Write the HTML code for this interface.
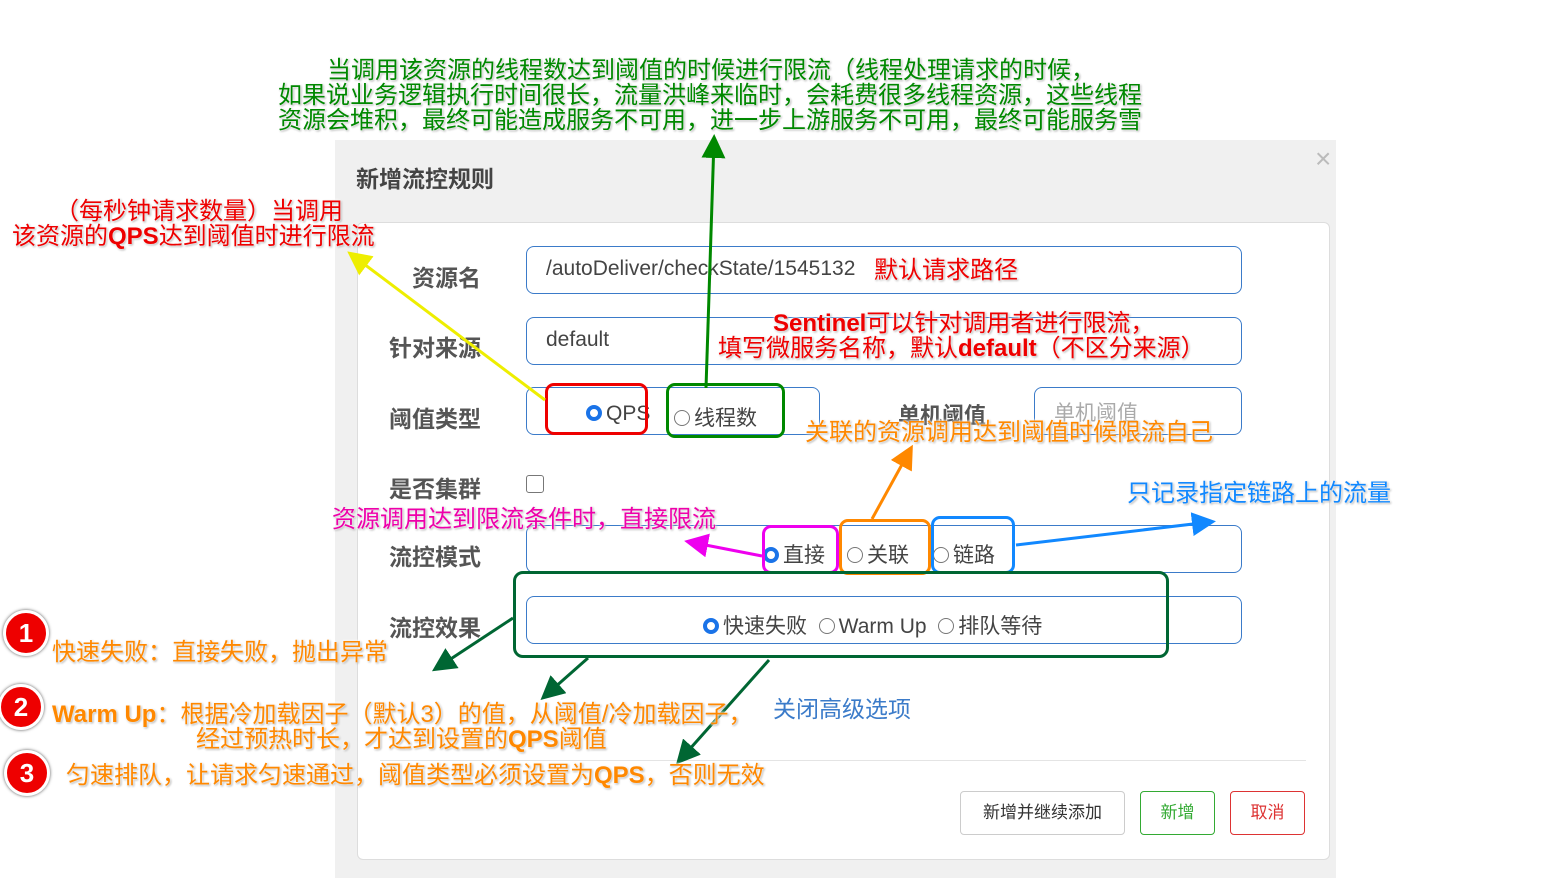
<!DOCTYPE html>
<html><head><meta charset="utf-8"><style>
body{margin:0;width:1550px;height:878px;position:relative;background:#fff;overflow:hidden;font-family:"Liberation Sans","Noto Sans CJK SC",sans-serif}
.a{position:absolute;white-space:nowrap}
.lab{position:absolute;font-size:23px;font-weight:bold;color:#555;left:389px}
.inp{position:absolute;left:526px;width:716px;border:1px solid #3b7bc9;border-radius:8px;box-sizing:border-box;background:#fff}
.t{position:absolute;white-space:nowrap;font-size:24px;line-height:25px;text-shadow:0 0 2px #fff,0 0 3px #fff,1px 1px 2px #888}
.hb{position:absolute;border:3px solid;border-radius:9px;box-sizing:border-box}
.rad{display:inline-block;width:16px;height:16px;border:1px solid #777;border-radius:50%;box-sizing:border-box;vertical-align:-1px;margin-right:4px;background:#fff}
.rad.on{border:4px solid #1a73e8;background:#fff}
.num{position:absolute;width:40px;height:40px;border-radius:50%;background:#e00;border:3px solid #fff;box-shadow:0 0 3px #555;color:#fff;font-weight:bold;font-size:26px;text-align:center;line-height:40px}
.btn{position:absolute;top:791px;height:44px;border:1px solid;border-radius:4px;box-sizing:border-box;font-size:17px;text-align:center;line-height:42px}
</style></head><body>
<div class="a" style="left:335px;top:140px;width:1001px;height:738px;background:#f0f0f0"></div>
<div class="a" style="left:357px;top:222px;width:971px;height:636px;background:#fff;border:1px solid #ddd;border-radius:6px"></div>
<div class="a" style="left:356px;top:160px;font-size:23px;font-weight:bold;color:#444">新增流控规则</div>
<div class="a" style="left:1315px;top:143px;font-size:28px;color:#bbb">×</div>

<div class="lab" style="left:412px;top:259px">资源名</div>
<div class="lab" style="top:329px">针对来源</div>
<div class="lab" style="top:400px">阈值类型</div>
<div class="lab" style="top:470px">是否集群</div>
<div class="lab" style="top:538px">流控模式</div>
<div class="lab" style="top:609px">流控效果</div>

<div class="inp" style="top:246px;height:48px"></div>
<div class="a" style="left:546px;top:257px;font-size:21px;color:#444">/autoDeliver/checkState/1545132</div>
<div class="inp" style="top:317px;height:48px"></div>
<div class="a" style="left:546px;top:328px;font-size:21px;color:#444">default</div>
<div class="inp" style="top:387px;height:48px;width:294px"></div>
<div class="a" style="left:898px;top:398px;font-size:22px;font-weight:bold;color:#555">单机阈值</div>
<div class="inp" style="left:1034px;top:387px;height:48px;width:208px"></div>
<div class="a" style="left:1054px;top:397px;font-size:21px;color:#aaa">单机阈值</div>
<div class="a" style="left:586px;top:402px;font-size:21px;color:#444"><span class="rad on"></span>QPS</div>
<div class="a" style="left:674px;top:402px;font-size:21px;color:#444"><span class="rad"></span>线程数</div>
<div class="a" style="left:526px;top:475px;width:18px;height:18px;border:1px solid #777;border-radius:3px;box-sizing:border-box"></div>
<div class="inp" style="top:525px;height:48px"></div>
<div class="a" style="left:763px;top:539px;font-size:21px;color:#444"><span class="rad on"></span>直接</div>
<div class="a" style="left:847px;top:539px;font-size:21px;color:#444"><span class="rad"></span>关联</div>
<div class="a" style="left:933px;top:539px;font-size:21px;color:#444"><span class="rad"></span>链路</div>
<div class="inp" style="top:596px;height:48px"></div>
<div class="a" style="left:703px;top:610px;font-size:21px;color:#444"><span class="rad on"></span>快速失败 &nbsp;<span class="rad"></span>Warm Up &nbsp;<span class="rad"></span>排队等待</div>
<div class="a" style="left:773px;top:690px;font-size:23px;color:#3b7bc9">关闭高级选项</div>
<div class="a" style="left:380px;top:760px;width:926px;height:1px;background:#e4e4e4"></div>
<div class="btn" style="left:960px;width:165px;border-color:#ccc;color:#333">新增并继续添加</div>
<div class="btn" style="left:1140px;width:75px;border-color:#3a3;color:#3a3">新增</div>
<div class="btn" style="left:1230px;width:75px;border-color:#d33;color:#d33">取消</div>

<div class="hb" style="left:545px;top:383px;width:103px;height:52px;border-color:#e00"></div>
<div class="hb" style="left:666px;top:383px;width:119px;height:55px;border-color:#080"></div>
<div class="hb" style="left:762px;top:525px;width:77px;height:49px;border-color:#e0e"></div>
<div class="hb" style="left:839px;top:519px;width:92px;height:56px;border-color:#f80"></div>
<div class="hb" style="left:931px;top:516px;width:84px;height:58px;border-color:#18f"></div>
<div class="hb" style="left:513px;top:571px;width:656px;height:87px;border-color:#063;border-radius:10px"></div>

<svg class="a" style="left:0;top:0" width="1550" height="878">
<defs>
<marker id="m1" markerWidth="8" markerHeight="8" refX="6" refY="4" orient="auto"><path d="M0,0L8,4L0,8Z" fill="#ee0"/></marker>
<marker id="m2" markerWidth="8" markerHeight="8" refX="6" refY="4" orient="auto"><path d="M0,0L8,4L0,8Z" fill="#080"/></marker>
<marker id="m3" markerWidth="8" markerHeight="8" refX="6" refY="4" orient="auto"><path d="M0,0L8,4L0,8Z" fill="#f80"/></marker>
<marker id="m4" markerWidth="8" markerHeight="8" refX="6" refY="4" orient="auto"><path d="M0,0L8,4L0,8Z" fill="#e0e"/></marker>
<marker id="m5" markerWidth="8" markerHeight="8" refX="6" refY="4" orient="auto"><path d="M0,0L8,4L0,8Z" fill="#18f"/></marker>
<marker id="m6" markerWidth="8" markerHeight="8" refX="6" refY="4" orient="auto"><path d="M0,0L8,4L0,8Z" fill="#063"/></marker>
</defs>
<g stroke-width="3" fill="none">
<line x1="545" y1="400" x2="352" y2="255" stroke="#ee0" marker-end="url(#m1)"/>
<line x1="706" y1="388" x2="714" y2="140" stroke="#080" marker-end="url(#m2)"/>
<line x1="872" y1="519" x2="910" y2="450" stroke="#f80" marker-end="url(#m3)"/>
<line x1="762" y1="556" x2="690" y2="542" stroke="#e0e" marker-end="url(#m4)"/>
<line x1="1016" y1="545" x2="1210" y2="522" stroke="#18f" marker-end="url(#m5)"/>
<line x1="513" y1="618" x2="437" y2="668" stroke="#063" marker-end="url(#m6)"/>
<line x1="588" y1="658" x2="545" y2="696" stroke="#063" marker-end="url(#m6)"/>
<line x1="769" y1="660" x2="680" y2="760" stroke="#063" marker-end="url(#m6)"/>
</g></svg>

<div class="t" style="left:327px;top:58px;color:#080">当调用该资源的线程数达到阈值的时候进行限流（线程处理请求的时候，</div>
<div class="t" style="left:278px;top:83px;color:#080">如果说业务逻辑执行时间很长，流量洪峰来临时，会耗费很多线程资源，这些线程</div>
<div class="t" style="left:278px;top:108px;color:#080">资源会堆积，最终可能造成服务不可用，进一步上游服务不可用，最终可能服务雪</div>
<div class="t" style="left:55px;top:199px;color:#e00">（每秒钟请求数量）当调用</div>
<div class="t" style="left:12px;top:224px;color:#e00">该资源的<b>QPS</b>达到阈值时进行限流</div>
<div class="t" style="left:874px;top:258px;color:#e00">默认请求路径</div>
<div class="t" style="left:773px;top:311px;color:#e00"><b>Sentinel</b>可以针对调用者进行限流，</div>
<div class="t" style="left:718px;top:336px;color:#e00">填写微服务名称，默认<b>default</b>（不区分来源）</div>
<div class="t" style="left:805px;top:420px;color:#f80">关联的资源调用达到阈值时候限流自己</div>
<div class="t" style="left:1127px;top:481px;color:#18f">只记录指定链路上的流量</div>
<div class="t" style="left:332px;top:507px;color:#e0a">资源调用达到限流条件时，直接限流</div>
<div class="num" style="left:3px;top:610px">1</div>
<div class="num" style="left:-2px;top:684px">2</div>
<div class="num" style="left:4px;top:750px">3</div>
<div class="t" style="left:52px;top:640px;color:#f80">快速失败：直接失败，抛出异常</div>
<div class="t" style="left:52px;top:702px;color:#f80"><b>Warm Up</b>：根据冷加载因子（默认3）的值，从阈值/冷加载因子，</div>
<div class="t" style="left:196px;top:727px;color:#f80">经过预热时长，才达到设置的<b>QPS</b>阈值</div>
<div class="t" style="left:66px;top:763px;color:#f80">匀速排队，让请求匀速通过，阈值类型必须设置为<b>QPS</b>，否则无效</div>
</body></html>
